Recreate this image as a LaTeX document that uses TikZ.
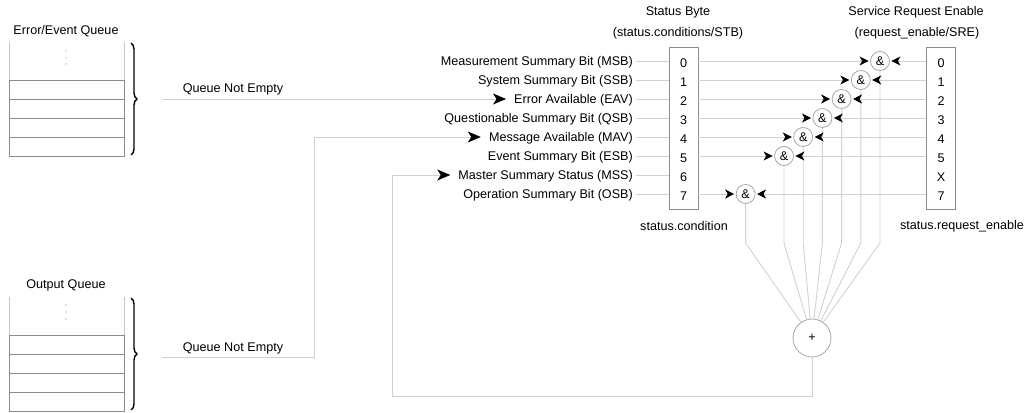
\documentclass[tikz,border=0pt]{standalone}
\usepackage{fontspec}
\setmainfont{Liberation Sans}
\usepackage{tikz}
\usetikzlibrary{arrows.meta,decorations.pathreplacing}

\begin{document}
\begin{tikzpicture}[x=1pt,y=-1pt,every node/.style={font=\fontsize{12.6}{15}\selectfont},
  wire/.style={draw=black!18,line width=0.9pt},
  intip/.style={-{Stealth[length=13pt,width=11pt,inset=3.5pt,color=black]},shorten >=5pt},
  gatetip/.style={-{Stealth[length=9pt,width=9pt,inset=2.5pt,color=black]},shorten >=1.5pt},
  regbox/.style={draw=black!45,line width=0.9pt,minimum width=29pt,minimum height=162pt,inner sep=0pt},
  gate/.style={circle,draw=black!35,line width=0.8pt,minimum size=19pt,inner sep=0pt},
  bitname/.style={anchor=east,inner sep=3pt},
  qline/.style={draw=black!45,line width=0.9pt},
  qwall/.style={draw=black!22,line width=0.9pt},
  qbrace/.style={decorate,decoration={brace,amplitude=6pt},line width=1.4pt}]
\useasboundingbox (0,0) rectangle (1032,412);
\coordinate (bend) at (0,243);
\coordinate (ret) at (392,396);
\coordinate (qs1) at (162,99);
\coordinate (qs2) at (162,357);
\coordinate (qc2) at (314,357);
\node (sbt)  at (678,12)  {Status Byte};
\node (sbs)  at (678,33)  {(status.conditions/STB)};
\node (sret) at (916,12)  {Service Request Enable};
\node (sres) at (917,33)  {(request\_enable/SRE)};
\node (stc)  at (684,226) {status.condition};
\node (sren) at (962,226) {status.request\_enable};
\node[regbox] (stb) at (683.5,128) {};
\node[regbox] (sre) at (941,128) {};
\node[gate,minimum size=38pt] (plus) at (812,338) {+};
\foreach \i/\t in {0/Measurement Summary Bit (MSB),1/System Summary Bit (SSB),2/Error Available (EAV),
  3/Questionable Summary Bit (QSB),4/Message Available (MAV),5/Event Summary Bit (ESB),
  6/Master Summary Status (MSS),7/Operation Summary Bit (OSB)}{
  \coordinate (r\i) at (669,61+19*\i);
  \node[bitname] (lbl\i) at (636,62+19*\i) {\t};
  \node (sb\i) at (683.5,63+19*\i) {\i};
  \draw[wire] (lbl\i.east |- r\i) -- (r\i);
}
\foreach \i/\d in {0/0,1/1,2/2,3/3,4/4,5/5,6/X,7/7}
  \node (se\i) at (941,63+19*\i) {\d};
\foreach \i in {0,1,2,3,4,5,7}{
  \node[gate] (g\i) at (880-19.2*\i,61+19*\i) {\&};
  \draw[wire,gatetip] (stb.east |- g\i) -- (g\i);
  \draw[wire,gatetip] (sre.west |- g\i) -- (g\i);
  \draw[wire] (g\i) -- (g\i |- bend) -- (plus);
}
\draw[wire,intip] (plus) -- (plus |- ret) -- (ret) -- (ret |- r6) -- (lbl6.west |- r6);
\node (eeq) at (66,31) {Error/Event Queue};
\draw[qwall] (9,80) -- (9,42) (124,42) -- (124,80);
\draw[qline] (9,80) rectangle (124,156);
\foreach \y in {99,118,137} \draw[qline] (9,\y) -- (124,\y);
\foreach \y in {51,58,64} \fill[black!45] (66,\y) circle (0.7);
\draw[qbrace] (131,43) -- (131,155);
\node (qne1) at (233,89) {Queue Not Empty};
\draw[wire,intip] (qs1) -- (lbl2.west |- r2);
\node (oq) at (66,285) {Output Queue};
\draw[qwall] (9,335) -- (9,297) (124,297) -- (124,335);
\draw[qline] (9,335) rectangle (124,411);
\foreach \y in {354,373,392} \draw[qline] (9,\y) -- (124,\y);
\foreach \y in {305,312,319} \fill[black!45] (66,\y) circle (0.7);
\draw[qbrace] (131,298) -- (131,410);
\node (qne2) at (233,348) {Queue Not Empty};
\draw[wire,intip] (qs2) -- (qc2) -- (qc2 |- r4) -- (lbl4.west |- r4);
\end{tikzpicture}
\end{document}
